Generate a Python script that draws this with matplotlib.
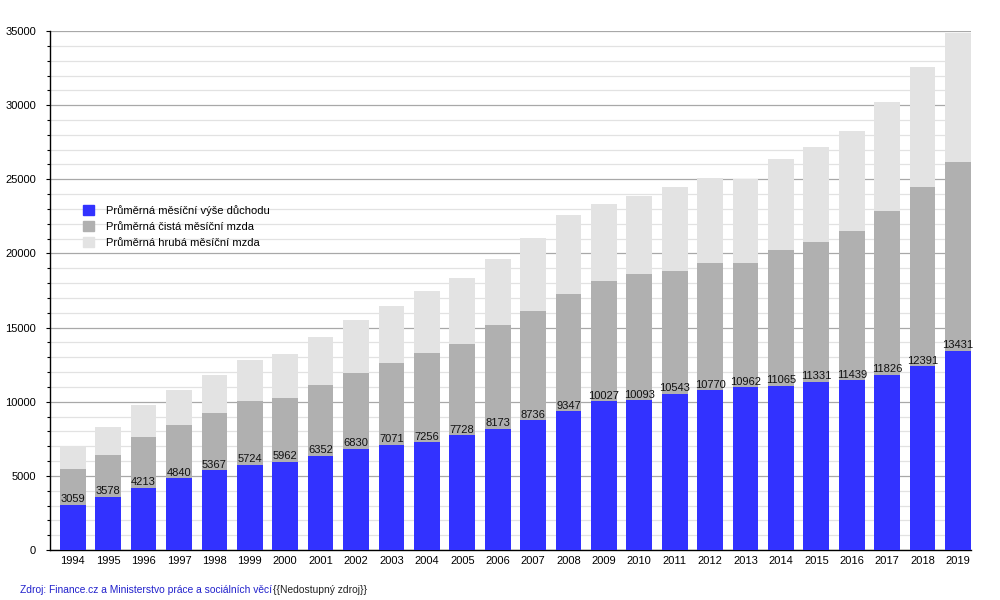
import matplotlib.pyplot as plt
from matplotlib.patches import Patch
from matplotlib.ticker import MultipleLocator

plt.rcParams['font.family'] = ['Liberation Sans', 'DejaVu Sans']

years = list(range(1994, 2020))
duchod = [3059, 3578, 4213, 4840, 5367, 5724, 5962, 6352, 6830, 7071, 7256, 7728, 8173,
          8736, 9347, 10027, 10093, 10543, 10770, 10962, 11065, 11331, 11439, 11826, 12391, 13431]
cista = [5460, 6430, 7640, 8430, 9240, 10050, 10250, 11130, 11940, 12610, 13290, 13890, 15170,
         16120, 17270, 18140, 18590, 18840, 19380, 19380, 20250, 20790, 21540, 22860, 24500, 26150]
hruba = [7000, 8300, 9760, 10790, 11780, 12790, 13220, 14370, 15530, 16450, 17470, 18340, 19600,
         21020, 22590, 23360, 23900, 24480, 25090, 25000, 26370, 27180, 28260, 30190, 32550, 34850]

labels = ['Průměrná měsíční výše důchodu', 'Průměrná čistá měsíční mzda', 'Průměrná hrubá měsíční mzda']
colors = ['#3232ff', '#b0b0b0', '#e3e3e3']

fig = plt.figure(figsize=(10, 6), dpi=100)
ax = fig.add_axes([0.05, 0.0833, 0.9207, 0.865])

x = range(len(years))
w = 0.726
ax.bar(x, hruba, width=w, color=colors[2], zorder=2)
ax.bar(x, cista, width=w, color=colors[1], zorder=3)
ax.bar(x, duchod, width=w, color=colors[0], zorder=4)

for i, v in enumerate(duchod):
    ax.annotate(str(v), (i, v), xytext=(0, 0.5), textcoords='offset points',
                ha='center', va='bottom', fontsize=8, color='#111111', zorder=5)

ax.set_xlim(-0.644, 25.36)
ax.set_ylim(0, 35000)
ax.yaxis.set_major_locator(MultipleLocator(5000))
ax.yaxis.set_minor_locator(MultipleLocator(1000))
ax.grid(axis='y', which='major', color='#a8a8a8', linewidth=0.9, zorder=0)
ax.grid(axis='y', which='minor', color='#e2e2e2', linewidth=0.9, zorder=0)
ax.set_axisbelow(True)

ax.set_xticks(list(x))
ax.set_xticklabels([str(y) for y in years], fontsize=8)
ax.tick_params(axis='x', length=0, pad=4)
ax.tick_params(axis='y', which='major', length=3, width=0.8, labelsize=8, pad=7)
ax.tick_params(axis='y', which='minor', length=2, width=0.8)

for s in ['top', 'right']:
    ax.spines[s].set_visible(False)
ax.spines['left'].set_linewidth(1)
ax.spines['bottom'].set_linewidth(1)

handles = [Patch(color=c) for c in colors]
ax.legend(handles, labels, loc='upper left', bbox_to_anchor=(0.025, 0.685), frameon=False,
          fontsize=8, handlelength=1.0, handleheight=1.1, handletextpad=1.1, labelspacing=0.45)

src = fig.text(0.02, 0.012, 'Zdroj: Finance.cz a Ministerstvo práce a sociálních věcí', color='#2222cc',
               fontsize=7.4, ha='left', va='baseline')
fig.text(0, 0, '{{Nedostupný zdroj}}', color='#222222', fontsize=7.4, ha='left', va='baseline',
         transform=src.get_transform())
fig.canvas.draw()
bb = src.get_window_extent().transformed(fig.transFigure.inverted())
fig.texts[-1].set_position((bb.x1 + 0.001, 0.012))

fig.savefig('out.png', dpi=100)
